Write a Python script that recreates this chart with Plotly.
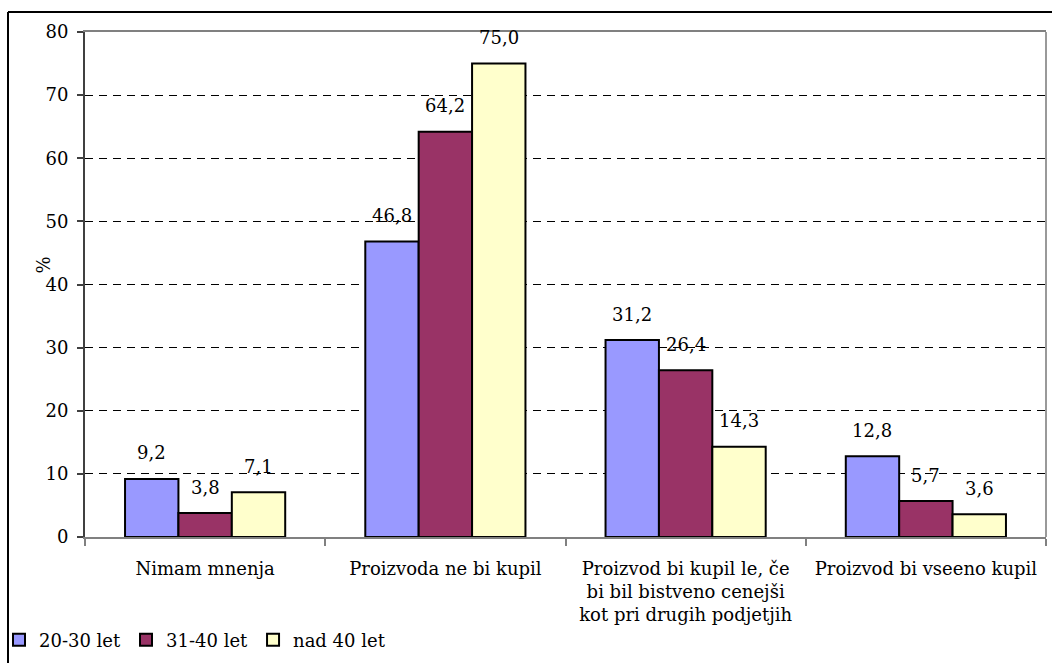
import plotly.graph_objects as go

# Survey answers by age group (percent)
categories = [
    "Nimam mnenja",
    "Proizvoda ne bi kupil",
    "Proizvod bi kupil le, če<br>bi bil bistveno cenejši<br>kot pri drugih podjetjih",
    "Proizvod bi vseeno kupil",
]
series_names = ["20-30 let", "31-40 let", "nad 40 let"]
values_20_30 = [9.2, 46.8, 31.2, 12.8]
values_31_40 = [3.8, 64.2, 26.4, 5.7]
values_nad_40 = [7.1, 75.0, 14.3, 3.6]
y_ticks = [0, 10, 20, 30, 40, 50, 60, 70, 80]

series_values = [values_20_30, values_31_40, values_nad_40]
colors = ["#9999FF", "#993366", "#FFFFCC"]

FONT = "DejaVu Serif"
FS = 18
FS_NUM = 18
W, H = 1053, 664
ML, MR, MT, MB = 85, 7, 32, 127

fig = go.Figure()
for name, vals, col in zip(series_names, series_values, colors):
    fig.add_trace(go.Bar(
        x=categories, y=vals, name=name,
        marker=dict(color=col, line=dict(color="black", width=2)),
    ))

# value labels above each bar (comma decimal separator)
n = len(series_values)
bar_w = (1 - 1 / 3) / n
annotations = []
for i, vals in enumerate(series_values):
    offset = (i - (n - 1) / 2) * bar_w
    for j, v in enumerate(vals):
        annotations.append(dict(
            x=j + offset, y=v, xref="x", yref="y",
            text=f"{v:.1f}".replace(".", ","),
            showarrow=False, yanchor="middle", yshift=26,
            font=dict(family=FONT, size=FS_NUM, color="black"),
        ))

pw = W - ML - MR
ph = H - MT - MB
def px_x(p):
    return (p - ML) / pw
def px_y(p):
    return (H - MB - p) / ph

# y-axis title
annotations.append(dict(
    x=px_x(30), y=px_y(265),
    xref="paper", yref="paper", text="%", textangle=-90,
    showarrow=False, font=dict(family=FONT, size=FS_NUM, color="black"),
))

frame = dict(color="black", width=2)
shapes = [
    # outer chart frame: left and top edges
    dict(type="line", xref="paper", yref="paper",
         x0=px_x(8), x1=px_x(8), y0=px_y(663), y1=px_y(12), line=frame),
    dict(type="line", xref="paper", yref="paper",
         x0=px_x(8), x1=px_x(1052), y0=px_y(12), y1=px_y(12), line=frame),
    # right edge of plot area
    dict(type="line", xref="paper", yref="paper",
         x0=1, x1=1, y0=0, y1=1,
         line=dict(color="#999999", width=2)),
]

fig.update_layout(
    width=W, height=H,
    margin=dict(l=ML, r=MR, t=MT, b=MB, pad=0, autoexpand=False),
    paper_bgcolor="white", plot_bgcolor="white",
    barmode="group", bargap=1 / 3, bargroupgap=0,
    font=dict(family=FONT, size=FS, color="black"),
    showlegend=True,
    legend=dict(
        orientation="h", x=px_x(-1), y=px_y(640),
        xanchor="left", yanchor="middle",
        font=dict(family=FONT, size=FS, color="black"),
        itemwidth=30, tracegroupgap=0, bgcolor="rgba(0,0,0,0)",
    ),
    xaxis=dict(
        type="category", tickson="boundaries", ticks="outside", ticklen=7,
        tickcolor="#808080", tickwidth=1.5, tickangle=0, automargin=False,
        showline=True, linecolor="#808080", linewidth=2, mirror=True,
        showgrid=False, ticklabelstandoff=14,
        tickfont=dict(family=FONT, size=FS, color="black"),
    ),
    yaxis=dict(
        range=[0, 80], tickvals=y_ticks, ticks="outside", ticklen=6,
        tickcolor="#404040", tickwidth=1.5, automargin=False,
        showline=True, linecolor="#404040", linewidth=2,
        showgrid=True, gridcolor="black", gridwidth=1, griddash="8px,6px",
        zeroline=False, ticklabelstandoff=5,
        tickfont=dict(family=FONT, size=FS_NUM, color="black"),
    ),
    annotations=annotations,
    shapes=shapes,
)

fig.write_html("out.html")
